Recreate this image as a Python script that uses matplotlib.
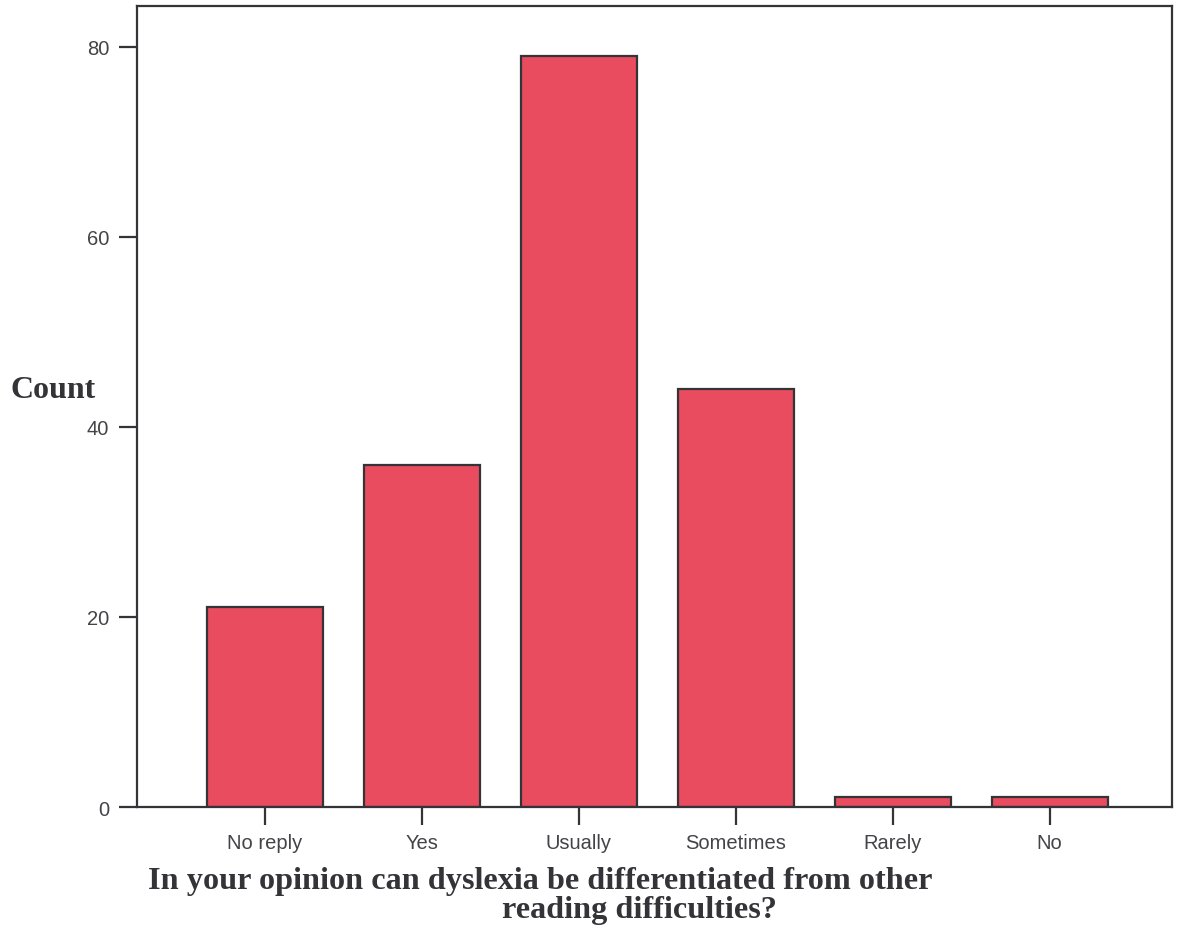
import matplotlib
matplotlib.use("Agg")
import matplotlib.pyplot as plt

categories = ["No reply", "Yes", "Usually", "Sometimes", "Rarely", "No"]
counts = [21, 36, 79, 44, 1, 1]
yticks = [0, 20, 40, 60, 80]

W, H = 1183, 929
fig = plt.figure(figsize=(W / 100, H / 100), dpi=100)
ax = fig.add_axes([137 / W, 1 - 808 / H, (1172 - 137) / W, (808 - 7) / H])

edge = "#333338"
x = list(range(len(categories)))
ax.bar(x, counts, width=0.74, color="#E94B5F", edgecolor=edge, linewidth=1.6)

ax.set_xlim(-0.815, 5.78)
ax.set_ylim(0, 84.3)
ax.set_xticks(x)
ax.set_xticklabels(categories)
ax.set_yticks(yticks)

for s in ax.spines.values():
    s.set_color(edge)
    s.set_linewidth(1.6)

ax.tick_params(axis="both", colors=edge, labelcolor="#444448", labelsize=14.5,
               length=13, width=1.6, direction="out")
ax.tick_params(axis="x", pad=6)
ax.tick_params(axis="y", pad=7)
for lbl in ax.get_xticklabels() + ax.get_yticklabels():
    lbl.set_family(["Liberation Sans", "DejaVu Sans"])

serif = ["Liberation Serif", "DejaVu Serif"]
fig.text(10 / W, 1 - 390 / H, "Count", family=serif, weight="bold", fontsize=23,
         color="#333338", ha="left", va="center")
fig.text(148 / W, 1 - 882 / H,
         "In your opinion can dyslexia be differentiated from other",
         family=serif, weight="bold", fontsize=23.2, color="#333338",
         ha="left", va="center")
fig.text(639 / W, 1 - 911 / H, "reading difficulties?",
         family=serif, weight="bold", fontsize=23.2, color="#333338",
         ha="center", va="center")

fig.savefig("out.png", dpi=100, facecolor="white")
